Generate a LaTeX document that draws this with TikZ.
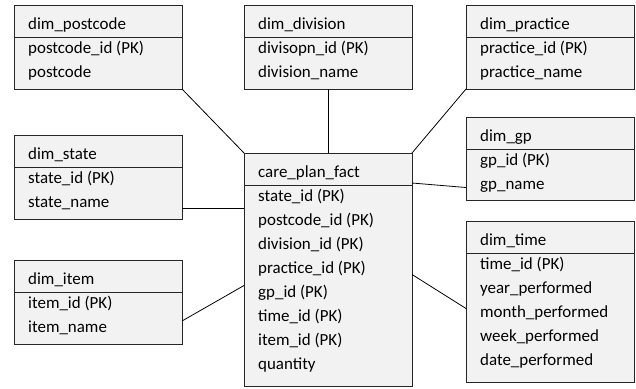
\documentclass[tikz,border=0pt]{standalone}
\usepackage{fontspec}
\setmainfont{Carlito}
\usetikzlibrary{calc}
\definecolor{boxfill}{HTML}{F2F2F2}
\definecolor{boxline}{HTML}{262626}
\tikzset{
  tbl/.style={draw=boxline, fill=boxfill, line width=1bp, rectangle, inner sep=0pt, outer sep=0pt},
  txt/.style={anchor=base west, inner sep=0pt, font=\fontsize{17}{20}\selectfont, text=black},
  conn/.style={draw=black, line width=0.8bp},
}
% #1 name, #2 x, #3 y, #4 w, #5 h, #6 title, #7 rows
\newcommand\ertable[7]{%
  \node[tbl, minimum width=#4bp, minimum height=#5bp, anchor=north west] (#1) at (#2,#3) {};
  \draw[draw=boxline, line width=1bp] (#2,{#3+32}) -- ({#2+#4},{#3+32});
  \node[txt] (#1-t) at ({#2+14},{#3+24}) {#6};
  \foreach \r [count=\i from 0] in {#7} {
    \node[txt] (#1-\i) at ({#2+14},{#3+32+11+24*\i+5}) {\r};
  }
}
\begin{document}
\begin{tikzpicture}[x=1bp,y=-1bp]
\useasboundingbox (0,0) rectangle (636,388);
\ertable{postcode}{14}{5}{168}{84}{dim\_postcode}{postcode\_id (PK),postcode}
\ertable{division}{244}{5}{168}{84}{dim\_division}{divisopn\_id (PK),division\_name}
\ertable{practice}{466}{5}{168}{84}{dim\_practice}{practice\_id (PK),practice\_name}
\ertable{gp}{466}{117}{168}{83}{dim\_gp}{gp\_id (PK),gp\_name}
\ertable{state}{14}{135}{168}{84}{dim\_state}{state\_id (PK),state\_name}
\ertable{item}{14}{260}{168}{84}{dim\_item}{item\_id (PK),item\_name}
\ertable{fact}{244}{153}{168}{233}{care\_plan\_fact}{state\_id (PK),postcode\_id (PK),division\_id (PK),practice\_id (PK),gp\_id (PK),time\_id (PK),item\_id (PK),quantity}
\ertable{time}{466}{221}{168}{161}{dim\_time}{time\_id (PK),year\_performed,month\_performed,week\_performed,date\_performed}
% connectors
\draw[conn] (postcode.south east) -- (fact.north west);
\draw[conn] (division.south) -- (fact.north);
\draw[conn] (practice.south west) -- (fact.north east);
\draw[conn] ([yshift=-31bp]state.east) -- ([yshift=-31bp]state.east -| fact.west);
\draw[conn] ([yshift=-19bp]item.east) -- ([yshift=-16bp]fact.west);
\draw[conn] ([yshift=-30bp]fact.north east) -- ([yshift=-29bp]gp.west);
\draw[conn] ([yshift=-5bp]fact.east) -- ([yshift=-7bp]time.west);
\end{tikzpicture}
\end{document}
